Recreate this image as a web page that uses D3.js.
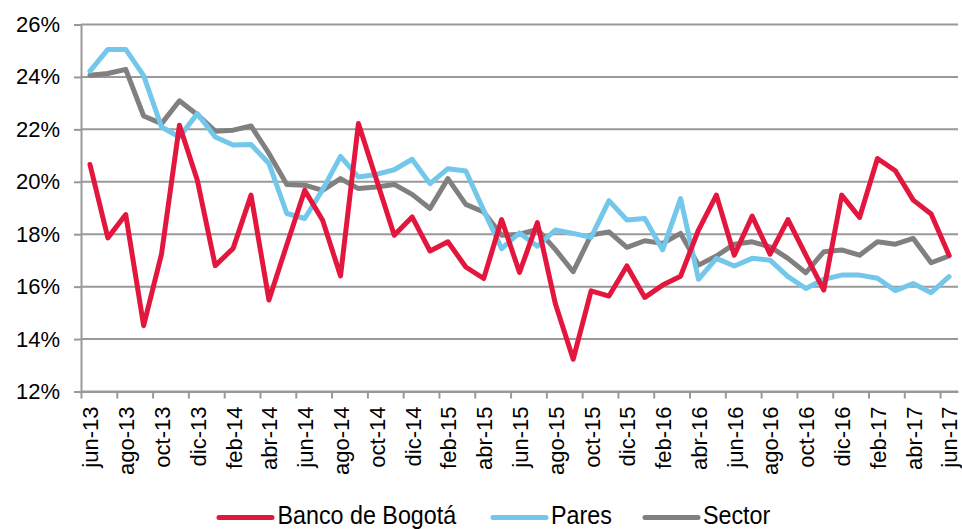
<!DOCTYPE html>
<html>
<head>
<meta charset="utf-8">
<script src="https://cdn.jsdelivr.net/npm/d3@7"></script>
<style>
  html, body { margin: 0; padding: 0; background: #fff; }
  svg { display: block; font-family: "Liberation Sans", Arial, sans-serif; }
</style>
</head>
<body>
<svg id="chart" width="962" height="529"></svg>
<script>
const categories = [
  "jun-13","jul-13","ago-13","sep-13","oct-13","nov-13","dic-13","ene-14","feb-14","mar-14","abr-14","may-14",
  "jun-14","jul-14","ago-14","sep-14","oct-14","nov-14","dic-14","ene-15","feb-15","mar-15","abr-15","may-15",
  "jun-15","jul-15","ago-15","sep-15","oct-15","nov-15","dic-15","ene-16","feb-16","mar-16","abr-16","may-16",
  "jun-16","jul-16","ago-16","sep-16","oct-16","nov-16","dic-16","ene-17","feb-17","mar-17","abr-17","may-17",
  "jun-17"
];
const bancoBogota = [20.66,17.86,18.75,14.51,17.25,22.16,20.06,16.8,17.46,19.49,15.49,17.6,19.68,18.53,16.41,22.22,20.1,17.96,18.66,17.36,17.71,16.75,16.31,18.56,16.54,18.44,15.36,13.23,15.84,15.64,16.79,15.59,16.06,16.4,18.16,19.49,17.2,18.69,17.24,18.56,17.2,15.87,19.49,18.64,20.89,20.42,19.3,18.77,17.2];
const pares = [24.22,25.05,25.05,24.05,22.09,21.71,22.6,21.71,21.4,21.42,20.7,18.79,18.6,19.7,20.97,20.18,20.28,20.46,20.86,19.93,20.5,20.41,18.91,17.45,18.05,17.54,18.16,18.03,17.88,19.28,18.54,18.6,17.4,19.36,16.28,17.08,16.79,17.08,17.01,16.38,15.93,16.28,16.44,16.44,16.32,15.85,16.12,15.77,16.38];
const sector = [24.06,24.13,24.29,22.51,22.22,23.09,22.56,21.93,21.97,22.13,21.08,19.9,19.87,19.67,20.12,19.74,19.8,19.9,19.52,18.98,20.12,19.14,18.85,17.96,18.0,18.18,17.42,16.57,17.97,18.09,17.5,17.75,17.65,18.03,16.82,17.17,17.62,17.71,17.52,17.08,16.53,17.33,17.4,17.2,17.71,17.62,17.84,16.91,17.17];
const yTicks = [12,14,16,18,20,22,24,26];
const seriesNames = ["Banco de Bogotá","Pares","Sector"];
const seriesColors = ["#E3173E","#72C7EA","#808080"];

(function () {
const svg = d3.select("#chart");
const mLeft = 81, mRight = 958, mTop = 24.5, mBottom = 391.5;

const x = d3.scaleLinear().domain([-0.5, categories.length - 0.5]).range([mLeft, mRight]);
const y = d3.scaleLinear().domain([12, 26]).range([mBottom, mTop]);

const gridColor = "#999999";

// gridlines
svg.append("g").selectAll("line").data(yTicks).join("line")
  .attr("x1", mLeft).attr("x2", mRight)
  .attr("y1", d => y(d)).attr("y2", d => y(d))
  .attr("stroke", gridColor).attr("stroke-width", 2);

// y axis
const yAxis = svg.append("g").attr("transform", `translate(${mLeft},0)`)
  .call(d3.axisLeft(y).tickValues(yTicks).tickFormat(d => d + "%").tickSize(7).tickPadding(14));
yAxis.select(".domain").attr("stroke", gridColor).attr("stroke-width", 2);
yAxis.selectAll(".tick line").attr("stroke", gridColor).attr("stroke-width", 2);
yAxis.selectAll("text").attr("font-size", 22).attr("fill", "#000")
  .attr("font-family", "Liberation Sans, Arial, sans-serif");

// x axis tick marks at category boundaries every 2 months
const boundaries = d3.range(0, categories.length + 1, 2).map(i => i - 0.5);
const xAxis = svg.append("g").attr("transform", `translate(0,${mBottom})`)
  .call(d3.axisBottom(x).tickValues(boundaries).tickFormat("").tickSize(7).tickSizeOuter(0));
xAxis.select(".domain").attr("stroke", gridColor).attr("stroke-width", 2);
xAxis.selectAll(".tick line").attr("stroke", gridColor).attr("stroke-width", 2);

// x labels
const labelIdx = d3.range(0, categories.length, 2);
const xLab = svg.append("g").attr("transform", `translate(0,${mBottom})`)
  .call(d3.axisBottom(x).tickValues(labelIdx).tickFormat(i => categories[i]).tickSize(0));
xLab.select(".domain").remove();
xLab.selectAll("text")
  .attr("font-size", 22).attr("fill", "#000")
  .attr("font-family", "Liberation Sans, Arial, sans-serif")
  .attr("text-anchor", "end")
  .attr("transform", "rotate(-90)")
  .attr("x", -15).attr("y", 0).attr("dy", "0.36em");

// lines
const line = d3.line().x((d, i) => x(i)).y(d => y(d)).curve(d3.curveLinear);
const allSeries = [bancoBogota, pares, sector];
[2, 1, 0].forEach(k => {
  svg.append("path").datum(allSeries[k])
    .attr("fill", "none").attr("stroke", seriesColors[k])
    .attr("stroke-width", 5).attr("stroke-linejoin", "round").attr("stroke-linecap", "round")
    .attr("d", line);
});

// legend
const legendItems = [
  {x1: 219, x2: 272, tx: 277.5},
  {x1: 493, x2: 546, tx: 551},
  {x1: 645, x2: 698, tx: 703}
];
const lg = svg.append("g");
legendItems.forEach((it, k) => {
  lg.append("line").attr("x1", it.x1).attr("x2", it.x2).attr("y1", 517.5).attr("y2", 517.5)
    .attr("stroke", seriesColors[k]).attr("stroke-width", 5).attr("stroke-linecap", "round");
  lg.append("text")
    .attr("transform", `translate(${it.tx},523.5) scale(1,1.08)`)
    .attr("font-size", 23.3).attr("fill", "#000")
    .text(seriesNames[k]);
});
})();
</script>
</body>
</html>
